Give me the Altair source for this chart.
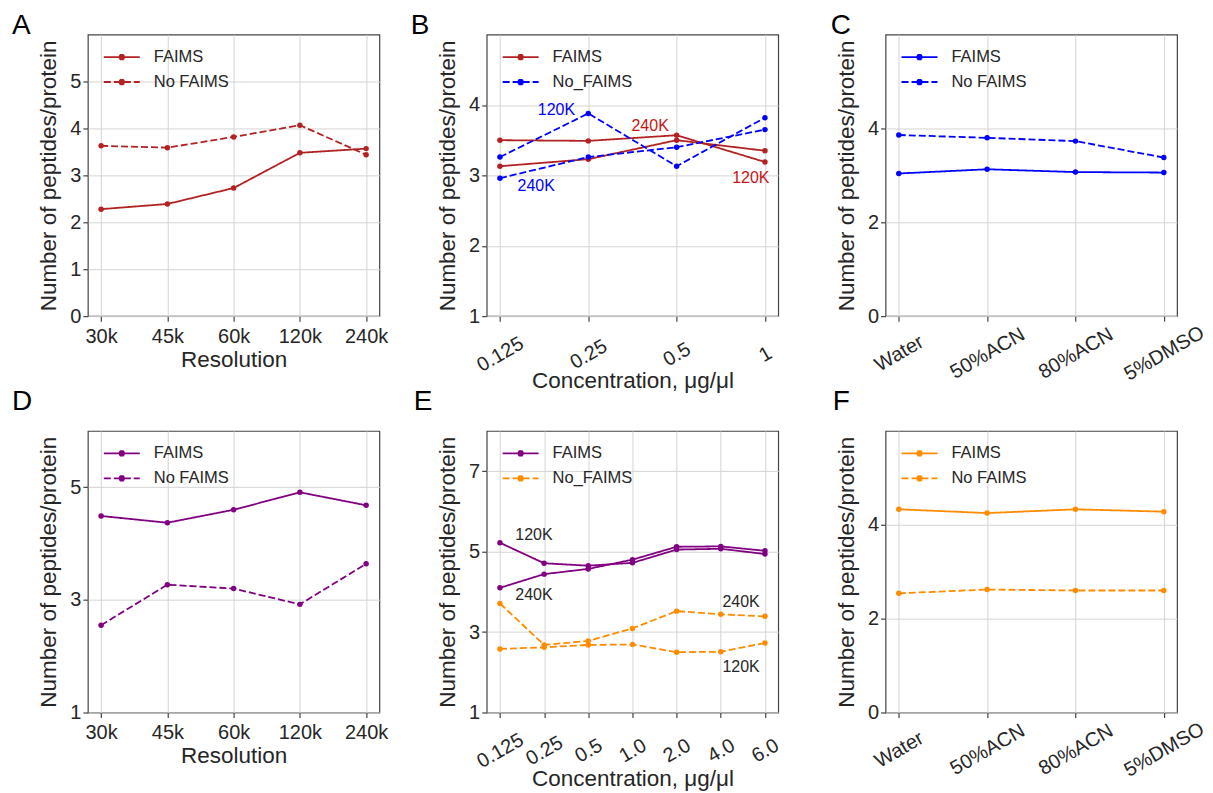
import json
import altair as alt
import pandas as pd

# ---------------- data ----------------
res_labels = ["30k", "45k", "60k", "120k", "240k"]
conc_b_labels = ["0.125", "0.25", "0.5", "1"]
solvent_labels = ["Water", "50%ACN", "80%ACN", "5%DMSO"]
conc_e_labels = ["0.125", "0.25", "0.5", "1.0", "2.0", "4.0", "6.0"]

a_faims = [2.28, 2.39, 2.73, 3.48, 3.57]
a_no_faims = [3.63, 3.59, 3.82, 4.07, 3.44]

b_faims_120k = [3.50, 3.49, 3.57, 3.19]
b_faims_240k = [3.13, 3.23, 3.50, 3.35]
b_no_faims_120k = [3.26, 3.88, 3.13, 3.82]
b_no_faims_240k = [2.96, 3.26, 3.40, 3.65]

c_faims = [3.04, 3.13, 3.07, 3.06]
c_no_faims = [3.86, 3.80, 3.73, 3.38]

d_faims = [4.49, 4.37, 4.60, 4.91, 4.68]
d_no_faims = [2.55, 3.27, 3.20, 2.92, 3.64]

e_faims_120k = [5.22, 4.71, 4.65, 4.72, 5.05, 5.07, 4.94]
e_faims_240k = [4.10, 4.44, 4.57, 4.80, 5.12, 5.13, 5.02]
e_no_faims_120k = [2.58, 2.62, 2.68, 2.69, 2.50, 2.51, 2.73]
e_no_faims_240k = [3.71, 2.68, 2.78, 3.09, 3.52, 3.44, 3.39]

f_faims = [4.33, 4.25, 4.33, 4.28]
f_no_faims = [2.54, 2.62, 2.60, 2.60]

b_ann_text = ["120K", "240K", "240K", "120K"]
b_ann_x = [0.64, 0.41, 1.70, 2.84]
b_ann_y = [3.93, 2.85, 3.70, 2.96]
b_ann_group = ["No_FAIMS", "No_FAIMS", "FAIMS", "FAIMS"]

e_ann_text = ["120K", "240K", "240K", "120K"]
e_ann_x = [0.77, 0.77, 5.46, 5.46]
e_ann_y = [5.42, 3.93, 3.74, 2.14]

# ---------------- style ----------------
RED = "#b22222"
RED_TXT = "#c81414"
BLUE = "#0000ff"
PURPLE = "#800080"
ORANGE = "#ff8c00"
DARK = "#262626"
FONT = "Liberation Sans"
YTITLE = "Number of peptides/protein"
W, H = 292, 282

# legend symbol: a line with a dot made of short strokes
_dot = []
for yy, hw in [(-0.125, 0.11), (-0.083, 0.144), (-0.042, 0.161), (0.0, 0.167),
               (0.042, 0.161), (0.083, 0.144), (0.125, 0.11)]:
    _dot.append(f"M{-hw},{yy}H{hw}")
SYMBOL = "M-1,0H1" + "".join(_dot)


def make_legend():
    return alt.Legend(
        title=None, orient="none", legendX=15, legendY=10,
        symbolType=SYMBOL, symbolSize=1296, symbolStrokeWidth=1.8,
        clipHeight=25, labelFontSize=16.5, labelOffset=13, padding=0,
        rowPadding=0, labelColor=DARK, labelFont=FONT,
    )


def panel(letter, ldx, ldy, labels, series, modes, colors, ydom, yticks,
          xtitle, rot_pad=None, xtitle_pad=2, ann=None):
    rows = []
    for mode, res, vals in series:
        for i, v in enumerate(vals):
            rows.append({"idx": i, "value": v, "Mode": mode, "Res": res})
    df = pd.DataFrame(rows)
    n = len(labels)
    m = 0.05 * (n - 1)
    label_expr = json.dumps(labels) + "[datum.value]"
    axis_kw = dict(values=list(range(n)), labelExpr=label_expr, title=xtitle,
                   labelOverlap=False, labelFlush=False, titlePadding=xtitle_pad)
    if rot_pad is not None:
        axis_kw.update(labelAngle=330, labelAlign="center",
                       labelBaseline="middle", labelPadding=rot_pad)
    else:
        axis_kw.update(labelAngle=0, labelPadding=5)
    x = alt.X("idx:Q", scale=alt.Scale(domain=[-m, n - 1 + m], nice=False, zero=False),
              axis=alt.Axis(**axis_kw))
    y = alt.Y("value:Q", scale=alt.Scale(domain=ydom, nice=False, zero=False),
              axis=alt.Axis(values=yticks, title=YTITLE, labelFlush=False, format="d",
                            labelOverlap=False, titlePadding=9))
    leg = make_legend()
    dash = alt.StrokeDash("Mode:N", scale=alt.Scale(domain=modes, range=[[1, 0], [7, 3]]),
                          legend=leg)
    if len(set(colors)) == 1:
        color = alt.value(colors[0])
    else:
        color = alt.Color("Mode:N", scale=alt.Scale(domain=modes, range=colors), legend=leg)
    lines = alt.Chart(df).mark_line(
        strokeWidth=1.8, point=alt.OverlayMarkDef(filled=True, size=30)
    ).encode(x=x, y=y, color=color, strokeDash=dash, detail="Res:N")
    layers = [lines]
    if ann is not None:
        for adf, col in ann:
            layers.append(
                alt.Chart(adf).mark_text(fontSize=16, color=col, font=FONT,
                                         align="center", baseline="middle")
                .encode(x="ax:Q", y="ay:Q", text="t:N")
            )
    return alt.layer(*layers).properties(
        width=W, height=H,
        title=alt.TitleParams(text=letter, anchor="start", frame="group", fontSize=28,
                              fontWeight="normal", color="black", font=FONT,
                              dx=ldx, dy=ldy, offset=0, baseline="alphabetic"),
    )


# annotations
b_ann = pd.DataFrame({"ax": b_ann_x, "ay": b_ann_y, "t": b_ann_text, "g": b_ann_group})
b_ann_layers = [
    (b_ann[b_ann.g == "No_FAIMS"][["ax", "ay", "t"]], BLUE),
    (b_ann[b_ann.g == "FAIMS"][["ax", "ay", "t"]], RED_TXT),
]
e_ann = pd.DataFrame({"ax": e_ann_x, "ay": e_ann_y, "t": e_ann_text})
e_ann_layers = [(e_ann, DARK)]

pA = panel("A", -76, 27, res_labels,
           [("FAIMS", "a", a_faims), ("No FAIMS", "b", a_no_faims)],
           ["FAIMS", "No FAIMS"], [RED, RED], [0, 6], [0, 1, 2, 3, 4, 5],
           "Resolution")
pB = panel("B", -76, 27, conc_b_labels,
           [("FAIMS", "120K", b_faims_120k), ("FAIMS", "240K", b_faims_240k),
            ("No_FAIMS", "120K", b_no_faims_120k), ("No_FAIMS", "240K", b_no_faims_240k)],
           ["FAIMS", "No_FAIMS"], [RED, BLUE], [1, 5], [1, 2, 3, 4],
           "Concentration, μg/μl", rot_pad=33, xtitle_pad=-6, ann=b_ann_layers)
pC = panel("C", -55, 27, solvent_labels,
           [("FAIMS", "a", c_faims), ("No FAIMS", "b", c_no_faims)],
           ["FAIMS", "No FAIMS"], [BLUE, BLUE], [0, 6], [0, 2, 4],
           "", rot_pad=32)
pD = panel("D", -76, 7, res_labels,
           [("FAIMS", "a", d_faims), ("No FAIMS", "b", d_no_faims)],
           ["FAIMS", "No FAIMS"], [PURPLE, PURPLE], [1, 6], [1, 3, 5],
           "Resolution")
pE = panel("E", -73, 7, conc_e_labels,
           [("FAIMS", "120K", e_faims_120k), ("FAIMS", "240K", e_faims_240k),
            ("No_FAIMS", "120K", e_no_faims_120k), ("No_FAIMS", "240K", e_no_faims_240k)],
           ["FAIMS", "No_FAIMS"], [PURPLE, ORANGE], [1, 8], [1, 3, 5, 7],
           "Concentration, μg/μl", rot_pad=33, xtitle_pad=-4, ann=e_ann_layers)
pF = panel("F", -53, 7, solvent_labels,
           [("FAIMS", "a", f_faims), ("No FAIMS", "b", f_no_faims)],
           ["FAIMS", "No FAIMS"], [ORANGE, ORANGE], [0, 6], [0, 2, 4],
           "", rot_pad=32)

chart = alt.concat(
    pA, pB, pC, pD, pE, pF, columns=3,
    spacing={"row": 115, "column": 107.5}, bounds="flush",
).resolve_scale(
    color="independent", strokeDash="independent", x="independent", y="independent"
).resolve_legend(
    color="independent", strokeDash="independent"
).properties(
    padding={"left": 11, "top": 10, "right": 5, "bottom": 5},
    background="white",
).configure(font=FONT).configure_view(
    stroke="#444444", strokeWidth=1.2
).configure_axis(
    gridColor="#d4d4d4", gridWidth=1, domain=False, tickColor="#444444",
    tickSize=5, tickWidth=1.2, labelFontSize=20, labelColor=DARK, labelFont=FONT,
    titleFontSize=22.5, titleFontWeight="normal", titleColor=DARK, titleFont=FONT,
)

chart.save("out.html", embed_options={"renderer": "svg", "actions": False})
